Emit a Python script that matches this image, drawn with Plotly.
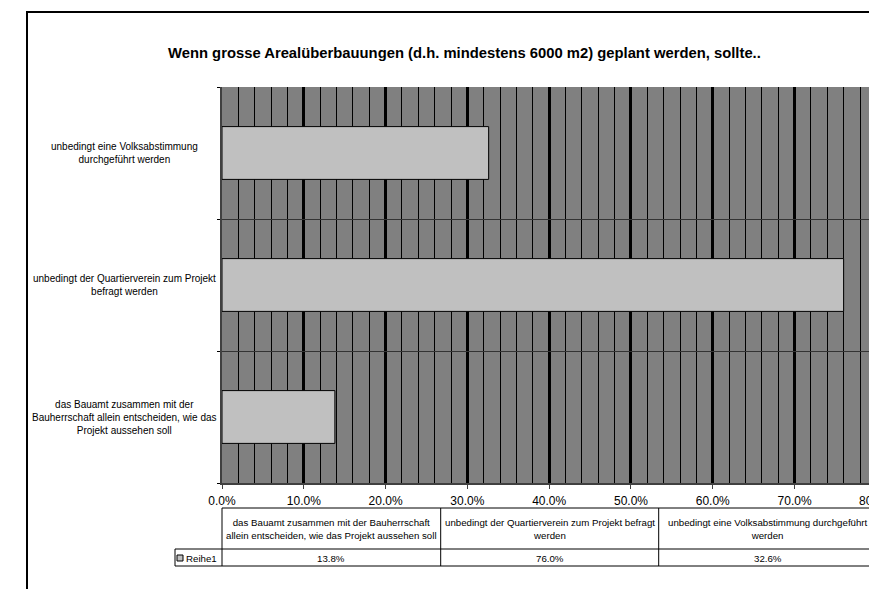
import plotly.graph_objects as go

# ---------------- data ----------------
categories = [
    "das Bauamt zusammen mit der Bauherrschaft allein entscheiden, wie das Projekt aussehen soll",
    "unbedingt der Quartierverein zum Projekt befragt werden",
    "unbedingt eine Volksabstimmung durchgeführt werden",
]
axis_labels = [
    "das Bauamt zusammen mit der<br>Bauherrschaft allein entscheiden, wie das<br>Projekt aussehen soll",
    "unbedingt der Quartierverein zum Projekt<br>befragt werden",
    "unbedingt eine Volksabstimmung<br>durchgeführt werden",
]
table_headers = [
    "das Bauamt zusammen mit der Bauherrschaft<br>allein entscheiden, wie das Projekt aussehen soll",
    "unbedingt der Quartierverein zum Projekt befragt<br>werden",
    "unbedingt eine Volksabstimmung durchgeführt<br>werden",
]
values = [0.138, 0.760, 0.326]
series_name = "Reihe1"
title = "Wenn grosse Arealüberbauungen (d.h. mindestens 6000 m2) geplant werden, sollte.."
x_ticks = [0.0, 0.1, 0.2, 0.3, 0.4, 0.5, 0.6, 0.7, 0.8]
x_max = 0.791

# ---------------- layout helpers ----------------
W, H = 869, 589
PLOT_L, PLOT_T, PLOT_B = 222, 87, 483          # page coordinates
L, T, B = PLOT_L, PLOT_T, H - PLOT_B
PW = W - PLOT_L
PH = PLOT_B - PLOT_T
FONT = "Liberation Sans, Arial, sans-serif"


def px(x):
    return (x - PLOT_L) / PW


def py(y):
    return (PLOT_B - y) / PH


fig = go.Figure()
fig.add_trace(go.Bar(
    y=categories, x=values, orientation="h", name=series_name,
    marker=dict(color="#C0C0C0", line=dict(color="#000000", width=1)),
    hoverinfo="x+y",
))

shapes = []
annotations = []

# outer chart border
shapes.append(dict(type="rect", xref="paper", yref="paper",
                   x0=px(27), x1=px(900), y0=py(12), y1=py(620),
                   line=dict(color="#000000", width=2), layer="below"))

# category labels
for cat, lab in zip(categories, axis_labels):
    annotations.append(dict(xref="paper", yref="y", x=px(125), y=cat,
                            text=lab, showarrow=False, xanchor="center",
                            align="center", font=dict(size=10, family=FONT, color="#000")))

# cut-off tick label at the right edge (beyond the visible axis range)
annotations.append(dict(xref="paper", yref="paper", x=x_ticks[-1] / x_max, y=py(501),
                        text=f"{x_ticks[-1]*100:.1f}%", showarrow=False,
                        xanchor="center", yanchor="middle",
                        font=dict(size=12, family=FONT, color="#000")))

# data table
col_edges = [222, 440.7, 658.7, 876.7]
t_top, t_mid, t_bot = 508, 549, 566
line_st = dict(color="#000000", width=1)
shapes.append(dict(type="line", xref="paper", yref="paper", x0=px(222), x1=px(900),
                   y0=py(t_top), y1=py(t_top), line=line_st))
shapes.append(dict(type="line", xref="paper", yref="paper", x0=px(175), x1=px(900),
                   y0=py(t_mid), y1=py(t_mid), line=line_st))
shapes.append(dict(type="line", xref="paper", yref="paper", x0=px(175), x1=px(900),
                   y0=py(t_bot), y1=py(t_bot), line=line_st))
shapes.append(dict(type="line", xref="paper", yref="paper", x0=px(175), x1=px(175),
                   y0=py(t_mid), y1=py(t_bot), line=line_st))
for ce in col_edges:
    shapes.append(dict(type="line", xref="paper", yref="paper", x0=px(ce), x1=px(ce),
                       y0=py(t_top), y1=py(t_bot), line=line_st))
for i, (hdr, v) in enumerate(zip(table_headers, values)):
    cx = (col_edges[i] + col_edges[i + 1]) / 2
    annotations.append(dict(xref="paper", yref="paper", x=px(cx), y=py((t_top + t_mid) / 2),
                            text=hdr, showarrow=False, xanchor="center", yanchor="middle",
                            align="center", font=dict(size=9.7, family=FONT, color="#000")))
    annotations.append(dict(xref="paper", yref="paper", x=px(cx), y=py((t_mid + t_bot) / 2 + 0.5),
                            text=f"{v*100:.1f}%", showarrow=False, xanchor="center",
                            yanchor="middle", font=dict(size=9.7, family=FONT, color="#000")))
# legend key
shapes.append(dict(type="rect", xref="paper", yref="paper", x0=px(177), x1=px(183),
                   y0=py(555), y1=py(561), fillcolor="#C0C0C0",
                   line=dict(color="#000000", width=1)))
annotations.append(dict(xref="paper", yref="paper", x=px(184), y=py(558),
                        text=series_name, showarrow=False, xanchor="left", yanchor="middle",
                        font=dict(size=9.7, family=FONT, color="#000")))

# title
annotations.append(dict(xref="paper", yref="paper", x=px(464), y=py(53),
                        text=f"<b>{title}</b>", showarrow=False, xanchor="center",
                        yanchor="middle", font=dict(size=14.8, family=FONT, color="#000")))

fig.update_layout(
    width=W, height=H,
    margin=dict(l=L, r=0, t=T, b=B, pad=0),
    paper_bgcolor="#FFFFFF", plot_bgcolor="#808080",
    showlegend=False, bargap=0.6,
    font=dict(family=FONT, color="#000"),
    shapes=shapes, annotations=annotations,
    xaxis=dict(
        range=[0, x_max], tickvals=x_ticks[:-1], tickformat=".1%",
        showgrid=True, gridcolor="#000000", gridwidth=3,
        minor=dict(dtick=0.02, showgrid=True, gridcolor="#000000", gridwidth=1),
        showline=True, linecolor="#404040", linewidth=2,
        ticks="outside", ticklen=4, tickcolor="#404040", tickwidth=1,
        ticklabelstandoff=2,
        tickfont=dict(size=12, family=FONT, color="#000"), zeroline=False,
        fixedrange=True,
    ),
    yaxis=dict(
        type="category", categoryorder="array", categoryarray=categories,
        tickson="boundaries", showticklabels=False,
        showgrid=True, gridcolor="#333333", gridwidth=1,
        showline=True, linecolor="#404040", linewidth=2,
        ticks="outside", ticklen=3, tickcolor="#000000", tickwidth=1,
        zeroline=False, fixedrange=True,
    ),
)

fig.write_html(
    "out.html",
    config={"displayModeBar": False},
    post_script="document.body.style.margin='0';document.body.style.overflow='hidden';"
                "document.documentElement.style.overflow='hidden';",
)
